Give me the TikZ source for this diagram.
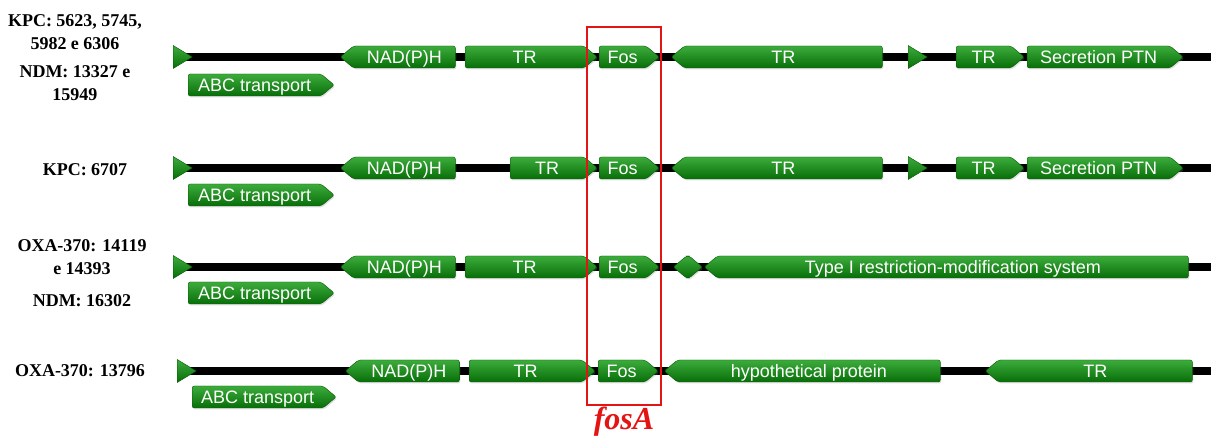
\documentclass[tikz,border=0pt]{standalone}
\usepackage{fontspec}
\setmainfont{Liberation Serif}
\setsansfont{Liberation Sans}
\usetikzlibrary{shapes.symbols,shapes.geometric,positioning,backgrounds,shadows}
\definecolor{genetop}{RGB}{60,172,60}
\definecolor{genebot}{RGB}{8,110,8}
\definecolor{geneline}{RGB}{5,90,5}
\definecolor{fosred}{RGB}{228,20,20}
\tikzset{%
  gene/.style     = {shape=signal, draw=geneline, line width=0.4pt,%
                     top color=genetop, bottom color=genebot,%
                     text=white, font=\sffamily\fontsize{18}{19}\selectfont,%
                     text height=12.5pt, text depth=0pt,%
                     minimum height=22pt, inner sep=0pt, rounded corners=2pt,%
                     signal pointer angle=80,%
                     drop shadow={opacity=0.25, shadow xshift=1pt, shadow yshift=-1.5pt}},%
  fwd/.style      = {gene, signal to=east},%
  rev/.style      = {gene, signal to=west},%
  twin/.style     = {gene, signal to=west and east},%
  tip/.style      = {shape=isosceles triangle, isosceles triangle apex angle=60,%
                     isosceles triangle stretches, minimum width=23pt, minimum height=19pt,%
                     inner sep=0pt, top color=genetop, bottom color=genebot, draw=geneline,%
                     line width=0.4pt},%
  strain/.style   = {font=\bfseries\fontsize{18}{22.5}\selectfont, align=center, inner sep=0pt},%
  backbone/.style = {line width=8pt, black},%
  fosbox/.style   = {draw=fosred, line width=2.5pt, inner sep=0pt},%
  foslabel/.style = {font=\bfseries\itshape\fontsize{32}{32}\selectfont, text=fosred, inner sep=0pt}%
}
% gene from x1 to x2 on row y
\newcommand{\gene}[6][fwd]{\node[#1, anchor=west, minimum width={#4-#3}] (#2) at (#3,#5) {#6};}

\begin{document}
\begin{tikzpicture}[x=1pt,y=-1pt]
	\useasboundingbox (0,0) rectangle (1211,438);
	% strain labels
	\node[strain] (lab1a) at (75,32) {KPC: 5623, 5745,\\5982 e 6306};
	\node[strain] (lab1b) at (75,83) {NDM: 13327 e\\15949};
	\node[strain] (lab2)  at (85,170) {KPC: 6707};
	\node[strain] (lab3a) at (82,257) {OXA-370: 14119\\e 14393};
	\node[strain] (lab3b) at (82,301) {NDM: 16302};
	\node[strain] (lab4)  at (80,371) {OXA-370: 13796};
	% row 1
	\node[tip, anchor=west] (s1) at (173,57) {};
	\gene[rev]{nad1}{340}{455}{57}{NAD(P)H}
	\gene{tra1}{465}{597}{57}{TR}
	\gene{fos1}{599}{659}{57}{Fos}
	\gene[rev]{trb1}{671}{882}{57}{TR}
	\node[tip, anchor=west] (t1) at (908,57) {};
	\gene{trc1}{956}{1024}{57}{TR}
	\gene{sec1}{1027}{1183}{57}{Secretion PTN}
	\gene{abc1}{188}{334}{85}{ABC transport}
	\coordinate (e1) at (1211,57);
	% row 2
	\node[tip, anchor=west] (s2) at (173,168) {};
	\gene[rev]{nad2}{340}{455}{168}{NAD(P)H}
	\gene{tra2}{510}{597}{168}{TR}
	\gene{fos2}{599}{659}{168}{Fos}
	\gene[rev]{trb2}{671}{882}{168}{TR}
	\node[tip, anchor=west] (t2) at (908,168) {};
	\gene{trc2}{956}{1024}{168}{TR}
	\gene{sec2}{1027}{1183}{168}{Secretion PTN}
	\gene{abc2}{188}{334}{195}{ABC transport}
	\coordinate (e2) at (1211,168);
	% row 3
	\node[tip, anchor=west] (s3) at (173,267) {};
	\gene[rev]{nad3}{340}{455}{267}{NAD(P)H}
	\gene{tra3}{465}{597}{267}{TR}
	\gene{fos3}{599}{659}{267}{Fos}
	\gene[twin]{sml3}{673}{702}{267}{}
	\gene[rev]{rms3}{704}{1188}{267}{Type I restriction-modification system}
	\gene{abc3}{188}{334}{293}{ABC transport}
	\coordinate (e3) at (1211,267);
	% row 4
	\node[tip, anchor=west] (s4) at (177,371) {};
	\gene[rev]{nad4}{345}{459}{371}{NAD(P)H}
	\gene{tra4}{469}{595}{371}{TR}
	\gene{fos4}{598}{658}{371}{Fos}
	\gene[rev]{hyp4}{664}{940}{371}{hypothetical protein}
	\gene[rev]{trb4}{985}{1192}{371}{TR}
	\gene{abc4}{192}{336}{397}{ABC transport}
	\coordinate (e4) at (1211,371);
	% backbones
	\begin{scope}[on background layer]
		\foreach \r in {1,...,4}
			\draw[backbone] (s\r.center) -- (e\r);
	\end{scope}
	% fosA frame
	\node[fosbox, minimum width=74pt, minimum height=378pt] (box) at (624,216) {};
	\node[foslabel, below=1pt of box] (fosA) {fosA};
\end{tikzpicture}
\end{document}
